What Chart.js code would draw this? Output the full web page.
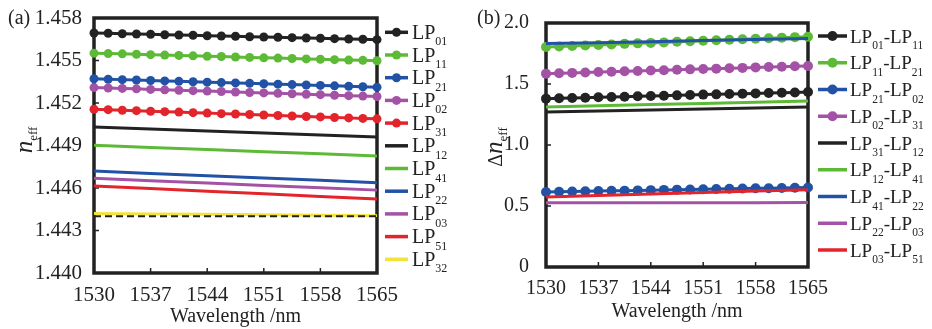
<!DOCTYPE html>
<html lang="en">
<head>
<meta charset="UTF-8" />
<title>neff</title>
<script src="https://cdn.jsdelivr.net/npm/chart.js@4.4.1/dist/chart.umd.min.js"></script>
<style>
  body { margin: 0; background: #fff; width: 932px; height: 329px; overflow: hidden; position: relative; }
  canvas { position: absolute; top: 0; }
</style>
</head>
<body>
<canvas id="chartA" width="466" height="329" style="left:0"></canvas>
<canvas id="chartB" width="466" height="329" style="left:466px"></canvas>
<script>
// wavelengths (nm)
const wlDots = [1530, 1531.75, 1533.5, 1535.25, 1537, 1538.75, 1540.5, 1542.25, 1544, 1545.75, 1547.5,
  1549.25, 1551, 1552.75, 1554.5, 1556.25, 1558, 1559.75, 1561.5, 1563.25, 1565];
const wlLine = [1530, 1537, 1544, 1551, 1558, 1565];
const wlEnds = [1530, 1565];
const xTicks = [1530, 1537, 1544, 1551, 1558, 1565];

// (a) effective index
const yTicksA = [1.440, 1.443, 1.446, 1.449, 1.452, 1.455, 1.458];
const lp01 = [1.45694, 1.45692, 1.45689, 1.45687, 1.45685, 1.45682, 1.45680, 1.45678, 1.45675, 1.45673, 1.45671,
  1.45668, 1.45666, 1.45664, 1.45661, 1.45659, 1.45657, 1.45654, 1.45652, 1.45650, 1.45647];
const lp11 = [1.45552, 1.45549, 1.45547, 1.45544, 1.45541, 1.45538, 1.45536, 1.45533, 1.45530, 1.45528, 1.45525,
  1.45522, 1.45519, 1.45517, 1.45514, 1.45511, 1.45509, 1.45506, 1.45503, 1.45501, 1.45498];
const lp21 = [1.45371, 1.45368, 1.45365, 1.45362, 1.45359, 1.45356, 1.45353, 1.45350, 1.45347, 1.45344, 1.45342,
  1.45339, 1.45336, 1.45333, 1.45330, 1.45327, 1.45324, 1.45321, 1.45318, 1.45315, 1.45312];
const lp02 = [1.45309, 1.45306, 1.45303, 1.45300, 1.45296, 1.45293, 1.45290, 1.45287, 1.45284, 1.45281, 1.45278,
  1.45274, 1.45271, 1.45268, 1.45265, 1.45262, 1.45259, 1.45255, 1.45252, 1.45249, 1.45246];
const lp31 = [1.45156, 1.45153, 1.45149, 1.45146, 1.45142, 1.45139, 1.45136, 1.45132, 1.45129, 1.45125, 1.45122,
  1.45119, 1.45115, 1.45112, 1.45108, 1.45105, 1.45102, 1.45098, 1.45095, 1.45091, 1.45088];
const lp12 = [1.45031, 1.45017, 1.45003, 1.44988, 1.44974, 1.44960];
const lp41 = [1.44901, 1.44886, 1.44871, 1.44856, 1.44841, 1.44826];
const lp22 = [1.44720, 1.44703, 1.44687, 1.44670, 1.44654, 1.44637];
const lp03 = [1.44668, 1.44651, 1.44635, 1.44618, 1.44602, 1.44585];
const lp51 = [1.44614, 1.44596, 1.44577, 1.44559, 1.44540, 1.44522];
const lp32 = [1.44420, 1.44417, 1.44414, 1.44411, 1.44408, 1.44405];
const cladding = [1.44401, 1.44401];

// (b) index differences
const yTicksB = [0, 0.5, 1.0, 1.5, 2.0];
const yLabelsB = ['0', '0.5', '1.0', '1.5', '2.0'];
const d01_11 = [1.380, 1.383, 1.385, 1.388, 1.391, 1.394, 1.396, 1.399, 1.402, 1.404, 1.407,
  1.410, 1.413, 1.415, 1.418, 1.421, 1.423, 1.426, 1.429, 1.431, 1.434];
const d11_21 = [1.803, 1.807, 1.812, 1.816, 1.820, 1.824, 1.829, 1.833, 1.837, 1.841, 1.846,
  1.850, 1.854, 1.858, 1.863, 1.867, 1.871, 1.875, 1.880, 1.884, 1.888];
const d21_02 = [0.615, 0.617, 0.619, 0.621, 0.622, 0.624, 0.626, 0.628, 0.630, 0.632, 0.634,
  0.635, 0.637, 0.639, 0.641, 0.643, 0.645, 0.646, 0.648, 0.650, 0.652];
const d02_31 = [1.585, 1.588, 1.591, 1.594, 1.598, 1.601, 1.604, 1.607, 1.610, 1.613, 1.617,
  1.620, 1.623, 1.626, 1.629, 1.632, 1.636, 1.639, 1.642, 1.645, 1.648];
const d31_12 = [1.270, 1.278, 1.286, 1.295, 1.303, 1.311];
const d12_41 = [1.311, 1.321, 1.331, 1.341, 1.351, 1.361];
const d41_22 = [1.831, 1.839, 1.847, 1.856, 1.864, 1.872];
const d22_03 = [0.526, 0.526, 0.527, 0.527, 0.527, 0.528];
const d03_51 = [0.574, 0.586, 0.598, 0.610, 0.622, 0.634];

const ink = '#222';
const green = '#5dba36';
const blue = '#2152a6';
const magenta = '#a352a6';
const red = '#e3242b';
const yellow = '#f2e33a';
const serif = '"Liberation Serif", "DejaVu Serif", serif';

function pts(xs, ys) { return xs.map((x, i) => ({ x: x, y: ys[i] })); }

function dotSet(label, ys, color, r) {
  return { label: label, data: pts(wlDots, ys), borderColor: color, backgroundColor: color,
    borderWidth: 3, pointRadius: r, pointBorderWidth: 0, pointBackgroundColor: color,
    order: 2, clip: false };
}
function lineSet(label, ys, color) {
  return { label: label, data: pts(wlLine, ys), borderColor: color, backgroundColor: color,
    borderWidth: 3, pointRadius: 0, order: 1, clip: false };
}

// text with the digit groups set as subscripts
function drawSub(ctx, text, x, y, big, small, drop) {
  text.split(/(\d+)/).filter(Boolean).forEach(p => {
    const sub = /^\d+$/.test(p);
    ctx.font = (sub ? small : big) + 'px ' + serif;
    ctx.fillText(p, x, sub ? y + drop : y);
    x += ctx.measureText(p).width;
  });
}

const decor = {
  id: 'decor',
  beforeDatasetsDraw(chart, args, o) {
    const { ctx, chartArea: a, scales } = chart;
    ctx.save();
    ctx.strokeStyle = ink;
    ctx.lineWidth = 3.5;
    ctx.strokeRect(a.left, a.top, a.right - a.left, a.bottom - a.top);
    ctx.lineWidth = 1.5;
    ctx.beginPath();
    scales.x.ticks.forEach(t => {
      const px = scales.x.getPixelForValue(t.value);
      ctx.moveTo(px, a.bottom); ctx.lineTo(px, a.bottom - 5);
    });
    scales.y.ticks.forEach(t => {
      const py = scales.y.getPixelForValue(t.value);
      ctx.moveTo(a.left, py); ctx.lineTo(a.left + 5, py);
    });
    ctx.stroke();
    ctx.restore();
  },
  afterDraw(chart, args, o) {
    const ctx = chart.ctx;
    ctx.save();
    ctx.fillStyle = ink;
    ctx.textBaseline = 'alphabetic';
    // panel tag
    ctx.font = '20px ' + serif;
    ctx.fillText(o.tag, o.tagX, 24);
    // y title, rotated
    ctx.save();
    ctx.translate(o.titleX, o.titleY);
    ctx.rotate(-Math.PI / 2);
    ctx.font = '20px ' + serif;
    const wPre = ctx.measureText(o.pre).width;
    ctx.font = 'italic 25px ' + serif;
    const wN = ctx.measureText('n').width;
    ctx.font = '13px ' + serif;
    const wSub = ctx.measureText('eff').width;
    let x = -(wPre + wN + wSub) / 2;
    ctx.font = '20px ' + serif;
    ctx.fillText(o.pre, x, 6); x += wPre;
    ctx.font = 'italic 25px ' + serif;
    ctx.fillText('n', x, 6); x += wN;
    ctx.font = '13px ' + serif;
    ctx.fillText('eff', x, 11);
    ctx.restore();
    // legend
    let row = 0;
    chart.data.datasets.forEach(ds => {
      if (ds.noLegend) return;
      const y = o.ly0 + row * o.lstep;
      row++;
      ctx.strokeStyle = ds.borderColor;
      ctx.lineWidth = 3.5;
      ctx.beginPath();
      ctx.moveTo(o.lx0, y); ctx.lineTo(o.lx1, y);
      ctx.stroke();
      if (ds.pointRadius > 0) {
        ctx.fillStyle = ds.borderColor;
        ctx.beginPath();
        ctx.arc((o.lx0 + o.lx1) / 2, y, ds.pointRadius, 0, Math.PI * 2);
        ctx.fill();
      }
      ctx.fillStyle = ink;
      drawSub(ctx, ds.label, o.tx, y + 6.5, o.big, o.small, 6.5);
    });
    ctx.restore();
  }
};

function xScale(h, size, tickPad, titlePad) {
  return {
    type: 'linear', min: 1530, max: 1565,
    afterBuildTicks: s => { s.ticks = xTicks.map(v => ({ value: v })); },
    grid: { display: false }, border: { display: false },
    ticks: { font: { family: serif, size: size }, color: ink, padding: tickPad, maxRotation: 0, autoSkip: false,
      callback: v => String(v) },
    title: { display: true, text: 'Wavelength /nm', font: { family: serif, size: 20 }, color: ink,
      padding: { top: 0, bottom: titlePad } },
    afterFit: s => { s.height = h; }
  };
}

new Chart(document.getElementById('chartA'), {
  type: 'line',
  plugins: [decor],
  data: {
    datasets: [
      dotSet('LP01', lp01, ink, 4.5),
      dotSet('LP11', lp11, green, 4.5),
      dotSet('LP21', lp21, blue, 4.5),
      dotSet('LP02', lp02, magenta, 4.5),
      dotSet('LP31', lp31, red, 4.5),
      lineSet('LP12', lp12, ink),
      lineSet('LP41', lp41, green),
      lineSet('LP22', lp22, blue),
      lineSet('LP03', lp03, magenta),
      lineSet('LP51', lp51, red),
      lineSet('LP32', lp32, yellow),
      { label: 'cladding', data: pts(wlEnds, cladding), borderColor: ink, borderWidth: 2,
        borderDash: [7, 4], pointRadius: 0, order: 0, noLegend: true, clip: false }
    ]
  },
  options: {
    responsive: false, animation: false, devicePixelRatio: 1,
    layout: { padding: { left: 0, right: 89, top: 18, bottom: 0 } },
    scales: {
      x: xScale(56, 21, 2, 0),
      y: {
        min: 1.440, max: 1.458,
        afterBuildTicks: s => { s.ticks = yTicksA.map(v => ({ value: v })); },
        grid: { display: false }, border: { display: false },
        ticks: { font: { family: serif, size: 21 }, color: ink, padding: 4, callback: v => v.toFixed(3) },
        afterFit: s => { s.width = 94; }
      }
    },
    plugins: {
      legend: { display: false }, tooltip: { enabled: false },
      decor: { tag: '(a)', tagX: 8, pre: '', titleX: 26, titleY: 140,
        lx0: 385, lx1: 408, tx: 412, ly0: 32.3, lstep: 22.7, big: 20, small: 12 }
    }
  }
});

new Chart(document.getElementById('chartB'), {
  type: 'line',
  plugins: [decor],
  data: {
    datasets: [
      dotSet('LP01-LP11', d01_11, ink, 5),
      dotSet('LP11-LP21', d11_21, green, 5),
      dotSet('LP21-LP02', d21_02, blue, 5),
      dotSet('LP02-LP31', d02_31, magenta, 5),
      lineSet('LP31-LP12', d31_12, ink),
      lineSet('LP12-LP41', d12_41, green),
      lineSet('LP41-LP22', d41_22, blue),
      lineSet('LP22-LP03', d22_03, magenta),
      lineSet('LP03-LP51', d03_51, red)
    ]
  },
  options: {
    responsive: false, animation: false, devicePixelRatio: 1,
    layout: { padding: { left: 0, right: 124, top: 23, bottom: 0 } },
    scales: {
      x: xScale(62, 20, 2, 5),
      y: {
        min: 0, max: 2,
        afterBuildTicks: s => { s.ticks = yTicksB.map(v => ({ value: v })); },
        grid: { display: false }, border: { display: false },
        ticks: { font: { family: serif, size: 20 }, color: ink, padding: 9,
          callback: (v, i) => yLabelsB[i] },
        afterFit: s => { s.width = 80; }
      }
    },
    plugins: {
      legend: { display: false }, tooltip: { enabled: false },
      decor: { tag: '(b)', tagX: 11, pre: 'Δ', titleX: 30, titleY: 147,
        lx0: 352, lx1: 381, tx: 384, ly0: 36, lstep: 26.75, big: 19, small: 11.5 }
    }
  }
});
</script>
</body>
</html>
